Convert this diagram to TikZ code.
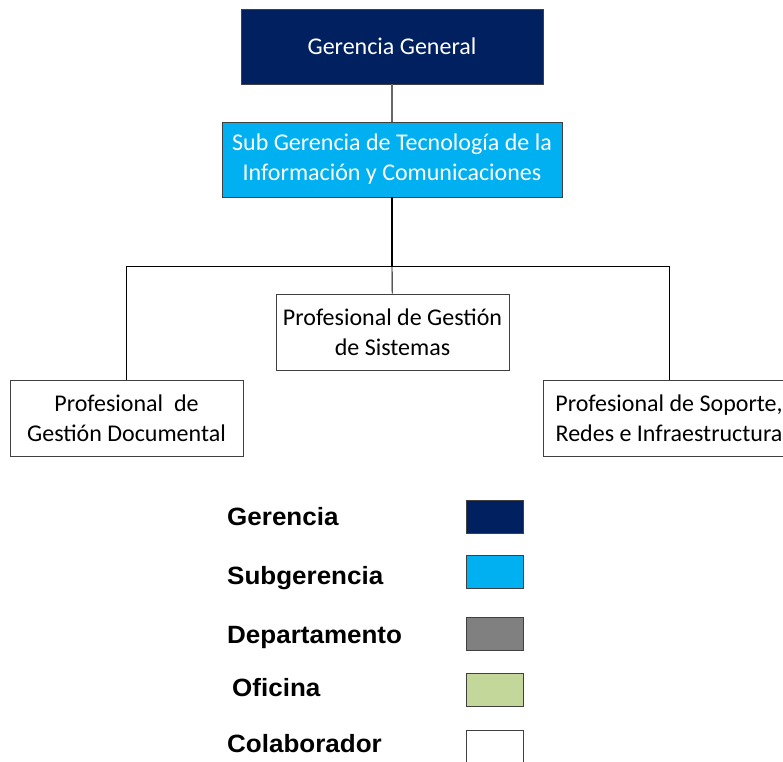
\documentclass[tikz,border=0pt]{standalone}
\usepackage{fontspec}
\usepackage{xcolor}
\usepackage{tikz}
\setmainfont{Carlito}
\newfontfamily\legendfont[FakeStretch=1.04]{Liberation Sans}
\definecolor{orgNavy}{RGB}{0, 32, 96}
\definecolor{orgCyan}{RGB}{0, 176, 240}
\definecolor{orgGray}{RGB}{128, 128, 128}
\definecolor{orgGreen}{RGB}{196, 215, 155}
\definecolor{orgBorder}{RGB}{64, 64, 64}

\begin{document}
\begin{tikzpicture}[x=1pt, y=-1pt,
  orgbox/.style={draw=orgBorder, line width=0.8pt, align=center, inner sep=0pt,
    minimum height=75pt, font=\fontsize{24}{30}\selectfont},
  legendlabel/.style={anchor=base west, inner sep=0pt, font=\legendfont\bfseries\fontsize{25}{28}\selectfont},
  swatch/.style={draw=orgBorder, line width=0.8pt, minimum width=57pt, minimum height=33pt, inner sep=0pt}]
\useasboundingbox (0,0) rectangle (783,761);

% Chart boxes
\node[orgbox, fill=orgNavy, text=white, minimum width=302pt] (gerencia) at (392,46.5) {Gerencia General};
\node[orgbox, fill=orgCyan, text=white, minimum width=340pt] (subgerencia) at (392,159.5) {Sub Gerencia de Tecnología de la\\Información y Comunicaciones};
\node[orgbox, fill=white, minimum width=233pt, minimum height=76pt] (profSistemas) at (392.5,332) {Profesional de Gestión\\de Sistemas};
\node[orgbox, fill=white, minimum width=233pt, minimum height=76pt] (profDocumental) at (126.5,418) {Profesional\ \ de\\Gestión Documental};
\node[orgbox, fill=white, minimum width=252pt, minimum height=76pt] (profSoporte) at (669,418) {Profesional de Soporte,\\Redes e Infraestructura};

% Connectors
\coordinate (bus) at (392,266);
\draw[orgGray!80!black, line width=1.2pt] (gerencia) -- (subgerencia);
\draw[black, line width=1.6pt] (subgerencia) -- (bus);
\draw[black, line width=0.9pt] (bus) -| (profDocumental);
\draw[black, line width=0.9pt] (bus) -| (profSoporte);
\draw[black, line width=0.9pt] (bus) -- (profSistemas);

% Legend
\node[legendlabel] (lblGerencia) at (227,525) {Gerencia};
\node[legendlabel] (lblSubgerencia) at (227,584) {Subgerencia};
\node[legendlabel] (lblDepartamento) at (227,643) {Departamento};
\node[legendlabel] (lblOficina) at (232,696) {Oficina};
\node[legendlabel] (lblColaborador) at (227,752) {Colaborador};
\node[swatch, fill=orgNavy] (swGerencia) at (495,517) {};
\node[swatch, fill=orgCyan] (swSubgerencia) at (495,572) {};
\node[swatch, fill=orgGray] (swDepartamento) at (495,634) {};
\node[swatch, fill=orgGreen] (swOficina) at (495,690) {};
\node[swatch, fill=white] (swColaborador) at (495,747) {};
\end{tikzpicture}
\end{document}
